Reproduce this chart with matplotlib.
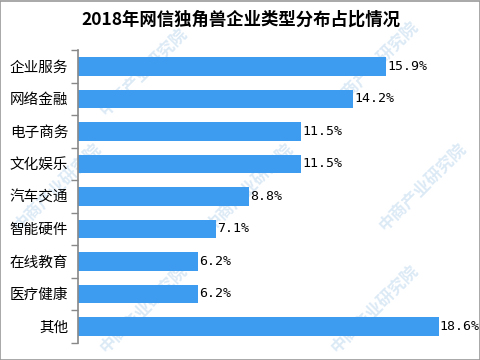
import matplotlib
matplotlib.use("Agg")
import matplotlib.pyplot as plt
from matplotlib.patches import Rectangle

plt.rcParams['font.family'] = ['Noto Sans CJK SC', 'DejaVu Sans']

# data, top to bottom as shown
categories = ["企业服务", "网络金融", "电子商务", "文化娱乐", "汽车交通",
              "智能硬件", "在线教育", "医疗健康", "其他"]
shares = [15.9, 14.2, 11.5, 11.5, 8.8, 7.1, 6.2, 6.2, 18.6]
title = "2018年网信独角兽企业类型分布占比情况"
watermark = "中商产业研究院"

W, H = 481, 360
fig = plt.figure(figsize=(W / 100, H / 100), dpi=100)
fig.patch.set_facecolor("white")

# faint watermark on a background layer
bg = fig.add_axes([0, 0, 1, 1], zorder=0)
bg.set_axis_off()
for wx, wy in [(0.30, 0.80), (0.78, 0.82), (0.12, 0.48), (0.52, 0.48),
               (0.88, 0.48), (0.30, 0.14), (0.78, 0.14)]:
    bg.text(wx, wy, watermark, fontsize=12, color="#dceaf6", rotation=45,
            ha="center", va="center", fontweight="bold")

left, right = 78 / W, (78 + 20 * 19.4) / W
bottom, top = 1 - 342.7 / H, 1 - 50 / H
ax = fig.add_axes([left, bottom, right - left, top - bottom], zorder=1)
ax.patch.set_alpha(0)

ypos = list(range(len(categories)))
ax.barh(ypos, shares, height=0.57, color="#3d9cf0", zorder=2)
for y, v in zip(ypos, shares):
    ax.text(v + 0.05, y, f"{v}%", va="center", ha="left", fontsize=9.5,
            family=["DejaVu Sans Mono"], color="black")

ax.set_xlim(0, 20)
ax.set_ylim(len(categories) - 0.5, -0.5)
ax.set_yticks(ypos)
ax.set_yticklabels(categories, fontsize=10.5)
ax.tick_params(axis="y", which="major", length=0, pad=7)
ax.set_yticks([i + 0.5 for i in range(-1, len(categories))], minor=True)
ax.tick_params(axis="y", which="minor", length=5, color="#888888", width=1)
ax.set_xticks([])
for s in ["top", "right", "bottom"]:
    ax.spines[s].set_visible(False)
ax.spines["left"].set_color("#888888")
ax.spines["left"].set_linewidth(1.2)

fig.text(0.5, 1 - 20 / H, title, ha="center", va="center", fontsize=12.5,
         fontweight="bold")

fig.patches.append(Rectangle((0.001, 0.001), 0.997, 0.997, transform=fig.transFigure,
                             fill=False, edgecolor="#999999", linewidth=1.2))

fig.savefig("out.png", dpi=100)
